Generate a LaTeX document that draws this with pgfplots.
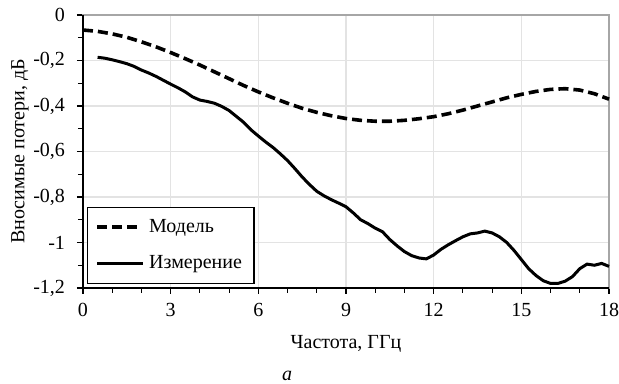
\documentclass[border=0pt]{standalone}
\usepackage{pgfplots}
\pgfplotsset{compat=1.18}
\usepackage{fontspec}
\setmainfont{Liberation Serif}
\pgfplotsset{
  dashimg/.style={legend image code/.code={\draw[##1] (0pt,0pt) -- (20pt,0pt); \path (23pt,0pt);}},
  solidimg/.style={legend image code/.code={\draw[##1] (0pt,0pt) -- (23pt,0pt);}},
}
\begin{document}
\fontsize{10}{12}\selectfont
\begin{tikzpicture}
\begin{axis}[
  scale only axis,
  width=263pt, height=136.5pt,
  xmin=0, xmax=18, ymin=-1.2, ymax=0,
  xtick={0,3,6,9,12,15,18},
  minor x tick num=2,
  ytick={0,-0.2,-0.4,-0.6,-0.8,-1,-1.2},
  yticklabels={0,{-0,2},{-0,4},{-0,6},{-0,8},-1,{-1,2}},
  minor y tick num=1,
  xtick pos=left, ytick pos=left,
  tick align=outside,
  major tick length=3pt, minor tick length=2.5pt,
  every tick/.style={black, line width=0.6pt},
  grid=major,
  major grid style={gray!22, line width=0.7pt},
  axis line style={gray!70, line width=0.6pt},
  /pgf/number format/assume math mode=true,
  tick label style={font=\fontsize{10}{12}\selectfont},
  yticklabel style={xshift=-2.5pt},
  xticklabel style={yshift=-1pt},
  xlabel={Частота, ГГц},
  ylabel={Вносимые потери, дБ},
  xlabel style={at={(axis description cs:0.5,-0.205)}, anchor=center},
  ylabel style={at={(axis description cs:-0.1198,0.5)}, anchor=center},
  legend cell align=left,
  legend style={at={(rel axis cs:0.0076,0.0146)}, anchor=south west, draw=black, line width=0.6pt,
    inner xsep=4pt, inner ysep=4pt, row sep=6pt, font=\fontsize{10}{12}\selectfont,
    nodes={inner xsep=2pt}},
  clip=false,
]
\addplot[black, line width=1.8pt, dash pattern=on 5pt off 2.5pt, dashimg] coordinates {
(0,-0.066) (0.5,-0.072) (1,-0.083) (1.5,-0.098) (2,-0.118) (2.5,-0.140) (3,-0.165)
(3.5,-0.192) (4,-0.220) (4.5,-0.250) (5,-0.280) (5.5,-0.310) (6,-0.338) (6.5,-0.364)
(7,-0.388) (7.5,-0.410) (8,-0.428) (8.5,-0.443) (9,-0.455) (9.5,-0.463) (10,-0.467)
(10.5,-0.467) (11,-0.463) (11.5,-0.456) (12,-0.447) (12.5,-0.434) (13,-0.418)
(13.5,-0.400) (14,-0.382) (14.5,-0.364) (15,-0.349) (15.5,-0.336) (16,-0.327)
(16.5,-0.324) (17,-0.330) (17.5,-0.346) (18,-0.370)
};
\addlegendentry{Модель}
\addplot[black, line width=1.5pt, solidimg] coordinates {
(0.5,-0.186) (0.75,-0.190) (1.0,-0.197) (1.25,-0.205) (1.5,-0.214) (1.75,-0.226)
(2.0,-0.242) (2.25,-0.255) (2.5,-0.270) (2.75,-0.287) (3.0,-0.304) (3.25,-0.320)
(3.5,-0.338) (3.75,-0.360) (4.0,-0.374) (4.25,-0.380) (4.5,-0.388) (4.75,-0.402)
(5.0,-0.420) (5.25,-0.446) (5.5,-0.472) (5.75,-0.505) (6.0,-0.532) (6.25,-0.558)
(6.5,-0.582) (6.75,-0.610) (7.0,-0.640) (7.25,-0.675) (7.5,-0.712) (7.75,-0.745)
(8.0,-0.775) (8.25,-0.795) (8.5,-0.812) (8.75,-0.827) (9.0,-0.843) (9.25,-0.870)
(9.5,-0.900) (9.75,-0.917) (10.0,-0.937) (10.25,-0.953) (10.5,-0.987) (10.75,-1.015)
(11.0,-1.040) (11.25,-1.058) (11.5,-1.068) (11.75,-1.072) (12.0,-1.055) (12.25,-1.030)
(12.5,-1.010) (12.75,-0.992) (13.0,-0.975) (13.25,-0.962) (13.5,-0.958) (13.75,-0.950)
(14.0,-0.958) (14.25,-0.975) (14.5,-1.000) (14.75,-1.035) (15.0,-1.075) (15.25,-1.115)
(15.5,-1.145) (15.75,-1.168) (16.0,-1.180) (16.25,-1.180) (16.5,-1.170) (16.75,-1.150)
(17.0,-1.115) (17.25,-1.095) (17.5,-1.100) (17.75,-1.092) (18.0,-1.105)
};
\addlegendentry{Измерение}
\draw[black, line width=0.6pt] (rel axis cs:0,1) -- (rel axis cs:0,0) -- (rel axis cs:1,0);
\node at (axis description cs:0.388,-0.322) {\textit{а}};
\end{axis}
\pgfresetboundingbox
\path[use as bounding box] (-41.5pt,-48pt) rectangle (268pt,144pt);
\end{tikzpicture}
\end{document}
